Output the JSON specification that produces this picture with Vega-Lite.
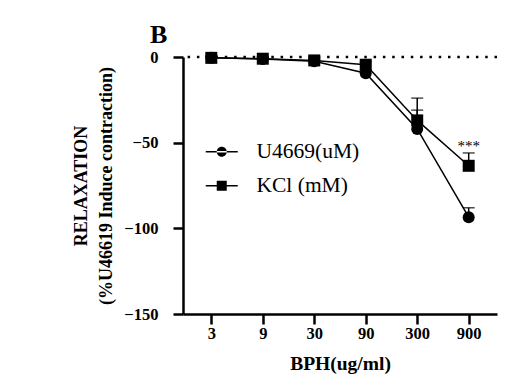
{
  "$schema": "https://vega.github.io/schema/vega-lite/v6.json",
  "autosize": "none",
  "width": 314,
  "height": 257,
  "padding": {"left": 183, "top": 57, "right": 9, "bottom": 72},
  "background": "white",
  "title": {"text": "B", "anchor": "start", "frame": "group", "font": "Liberation Serif", "fontSize": 26, "fontWeight": "bold", "color": "black", "dx": -33, "dy": 3, "offset": 4},
  "config": {
    "view": {"stroke": null},
    "axis": {
      "grid": false,
      "domainColor": "black", "domainWidth": 2.5,
      "tickColor": "black", "tickWidth": 2.5, "tickSize": 10,
      "labelFont": "Liberation Serif", "labelFontSize": 16.5, "labelFontWeight": "bold", "labelColor": "black",
      "titleFont": "Liberation Serif", "titleFontSize": 19.5, "titleFontWeight": "bold", "titleColor": "black"
    }
  },
  "data": {
    "values": [
      {"dose": 3, "series": "U4669(uM)", "mean": -0.5, "upper": 0.5},
      {"dose": 9, "series": "U4669(uM)", "mean": -1.2, "upper": -0.2},
      {"dose": 30, "series": "U4669(uM)", "mean": -2.5, "upper": -1.5},
      {"dose": 90, "series": "U4669(uM)", "mean": -9.5, "upper": -7.5},
      {"dose": 300, "series": "U4669(uM)", "mean": -42, "upper": -31},
      {"dose": 900, "series": "U4669(uM)", "mean": -93.5, "upper": -88},
      {"dose": 3, "series": "KCl (mM)", "mean": -0.5, "upper": 0.5},
      {"dose": 9, "series": "KCl (mM)", "mean": -1, "upper": 0},
      {"dose": 30, "series": "KCl (mM)", "mean": -2, "upper": -1},
      {"dose": 90, "series": "KCl (mM)", "mean": -4.5, "upper": -3},
      {"dose": 300, "series": "KCl (mM)", "mean": -37, "upper": -24},
      {"dose": 900, "series": "KCl (mM)", "mean": -63.5, "upper": -56}
    ]
  },
  "encoding": {
    "x": {
      "field": "dose", "type": "ordinal",
      "scale": {"type": "point", "padding": 0.55},
      "axis": {"title": "BPH(ug/ml)", "labelAngle": 0, "labelPadding": 1, "titlePadding": 13}
    }
  },
  "layer": [
    {
      "data": {"values": [{"ref": 0}]},
      "mark": {"type": "rule", "strokeDash": [2.5, 6.8], "strokeWidth": 2.5, "color": "black"},
      "encoding": {"x": null, "y": {"field": "ref", "type": "quantitative"}}
    },
    {
      "mark": {"type": "rule", "strokeWidth": 1.5, "color": "black"},
      "encoding": {
        "y": {"field": "mean", "type": "quantitative", "scale": {"domain": [-150, 0], "nice": false},
          "axis": {"values": [0, -50, -100, -150], "title": ["RELAXATION", "(%U46619 Induce contraction)"], "labelPadding": 15, "titlePadding": 8, "titleFontSize": 18, "titleLineHeight": 25}},
        "y2": {"field": "upper"}
      }
    },
    {
      "mark": {"type": "tick", "orient": "horizontal", "size": 12, "thickness": 1.5, "color": "black"},
      "encoding": {"y": {"field": "upper", "type": "quantitative"}}
    },
    {
      "mark": {"type": "line", "strokeWidth": 1.5, "color": "black"},
      "encoding": {"y": {"field": "mean", "type": "quantitative"}, "detail": {"field": "series"}}
    },
    {
      "mark": {"type": "point", "filled": true, "size": 144, "color": "black", "opacity": 1},
      "encoding": {
        "y": {"field": "mean", "type": "quantitative"},
        "shape": {"field": "series", "type": "nominal", "scale": {"domain": ["U4669(uM)", "KCl (mM)"], "range": ["circle", "square"]}, "legend": null}
      }
    },
    {
      "mark": {"type": "point", "filled": true, "size": 100, "color": "black", "opacity": 0},
      "encoding": {
        "y": {"field": "mean", "type": "quantitative"},
        "shape": {
          "field": "series", "type": "nominal",
          "scale": {"domain": ["U4669(uM)", "KCl (mM)"], "range": ["M-3.2,-0.15H3.2V0.15H-3.2ZM-1,0A1,1,0,1,0,1,0A1,1,0,1,0,-1,0Z", "M-3.2,-0.15H3.2V0.15H-3.2ZM-1,-1H1V1H-1Z"]},
          "legend": {
            "title": null, "orient": "none", "legendX": 28, "legendY": 84,
            "symbolSize": 100,
            "labelFont": "Liberation Serif", "labelFontSize": 21.5, "labelColor": "black", "labelOffset": 24, "rowPadding": 11,
            "encode": {"symbols": {"update": {"stroke": {"value": "black"}, "strokeWidth": {"value": 0.5}, "fill": {"value": "black"}, "opacity": {"value": 1}, "fillOpacity": {"value": 1}, "strokeOpacity": {"value": 1}}}}
          }
        }
      }
    },
    {
      "data": {"values": [{"dose": 900, "y": -55, "label": "***"}]},
      "mark": {"type": "text", "font": "Liberation Serif", "fontSize": 15, "fill": "black", "baseline": "alphabetic"},
      "encoding": {"y": {"field": "y", "type": "quantitative"}, "text": {"field": "label"}}
    }
  ],
  "resolve": {"scale": {"shape": "independent"}}
}
